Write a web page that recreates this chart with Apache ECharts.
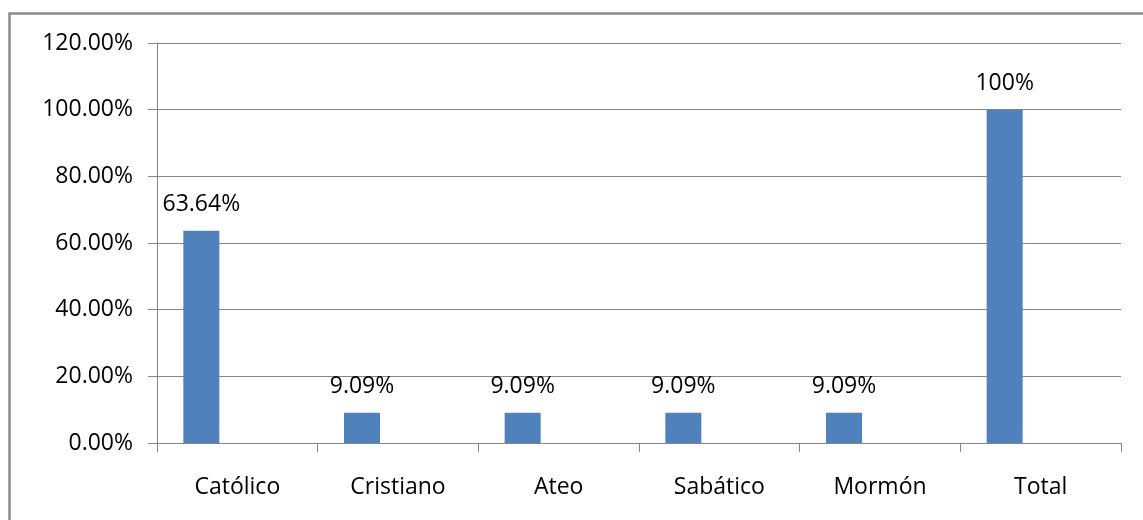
<!DOCTYPE html>
<html>
<head>
<meta charset="utf-8">
<script src="https://cdn.jsdelivr.net/npm/echarts@6/dist/echarts.min.js"></script>
<style>
html,body{margin:0;padding:0;background:#fff;}
#chart{width:1143px;height:520px;}
</style>
</head>
<body>
<div id="chart"></div>
<script>
const categories = ['Católico', 'Cristiano', 'Ateo', 'Sabático', 'Mormón', 'Total'];
const values = [63.64, 9.09, 9.09, 9.09, 9.09, 100];
const emptySeries = [null, null, null, null, null, null];
const yMin = 0, yMax = 120, yStep = 20;

const FONT = '"Open Sans", sans-serif';
const chart = echarts.init(document.getElementById('chart'), null, {renderer: 'canvas'});
chart.setOption({
  animation: false,
  backgroundColor: '#fff',
  graphic: [{
    type: 'rect',
    shape: {x: 9.5, y: 13.5, width: 1300, height: 700},
    style: {fill: 'none', stroke: '#8a8a8a', lineWidth: 2.5},
    silent: true,
    z: 100
  }],
  grid: {left: 157, right: 22, top: 43, bottom: 77, containLabel: false},
  xAxis: {
    type: 'category',
    data: categories,
    boundaryGap: true,
    axisLine: {show: true, lineStyle: {color: '#868686', width: 1}},
    axisTick: {show: true, length: 9, alignWithLabel: false, lineStyle: {color: '#868686'}},
    axisLabel: {color: '#000', fontFamily: FONT, fontSize: 23, lineHeight: 24, margin: 32}
  },
  yAxis: {
    type: 'value',
    min: yMin, max: yMax, interval: yStep,
    axisLine: {show: true, lineStyle: {color: '#868686', width: 1}},
    axisTick: {show: true, length: 9, lineStyle: {color: '#868686'}},
    splitLine: {show: true, lineStyle: {color: '#868686', width: 1}},
    axisLabel: {color: '#000', fontFamily: FONT, fontSize: 23, margin: 24,
      formatter: v => v.toFixed(2) + '%'}
  },
  series: [{
    type: 'bar',
    data: values,
    barWidth: 36,
    barGap: '100%',
    itemStyle: {color: '#4F81BD'},
    label: {
      show: true, position: 'top', distance: 14,
      color: '#000', fontFamily: FONT, fontSize: 23, lineHeight: 24,
      formatter: p => (p.value === 100 ? '100' : p.value.toFixed(2)) + '%'
    }
  }, {
    type: 'bar',
    data: emptySeries,
    barWidth: 36,
    itemStyle: {color: '#C0504D'}
  }]
});
</script>
</body>
</html>
